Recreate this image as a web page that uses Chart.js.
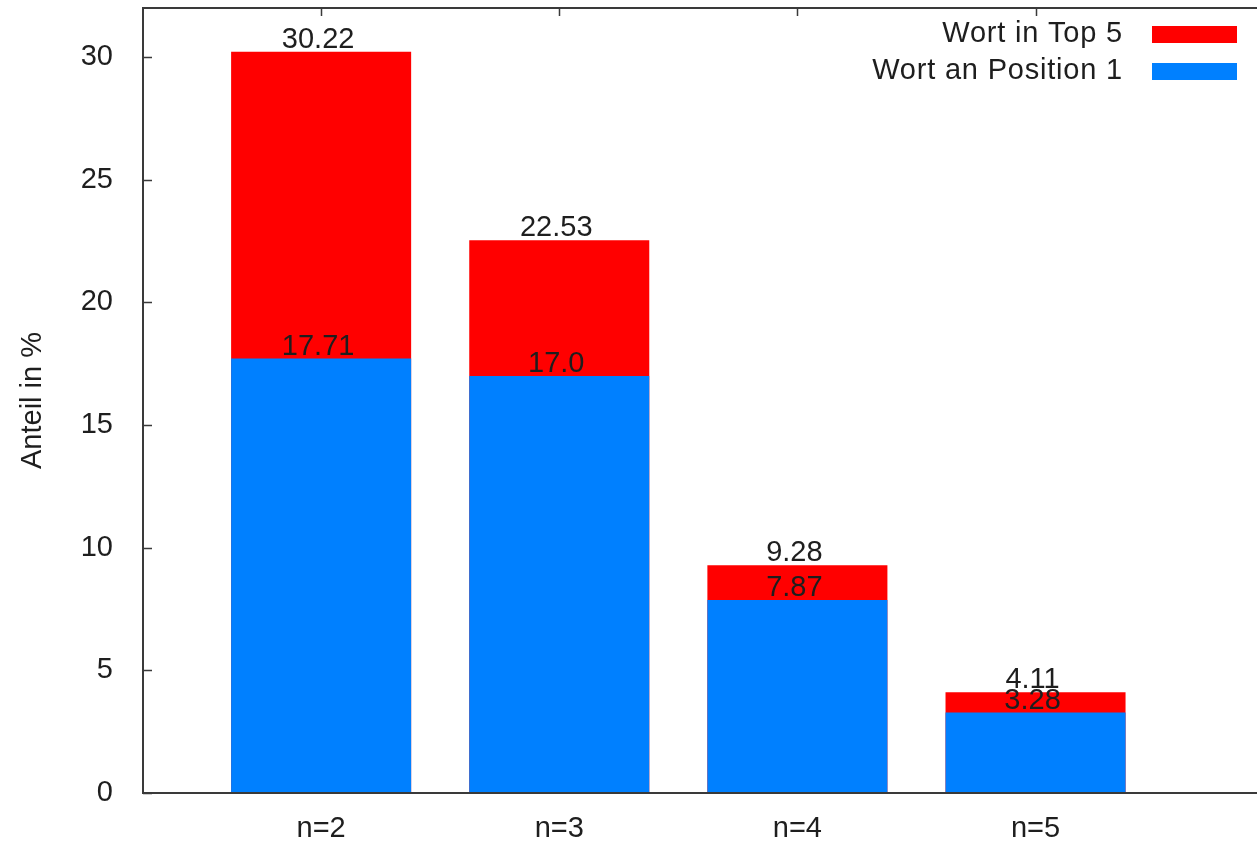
<!DOCTYPE html>
<html>
<head>
<meta charset="utf-8">
<script src="https://cdn.jsdelivr.net/npm/chart.js@4"></script>
<style>
  body { margin: 0; background: #fff; }
  canvas { display: block; }
</style>
</head>
<body>
<canvas id="myChart" width="1257" height="842"></canvas>
<script>
const labels = ['n=2', 'n=3', 'n=4', 'n=5'];
const top5 = [30.22, 22.53, 9.28, 4.11];
const pos1 = [17.71, 17.0, 7.87, 3.28];
const series_names = ['Wort in Top 5', 'Wort an Position 1'];
const y_ticks = [0, 5, 10, 15, 20, 25, 30];

const FONT = 'Liberation Sans, Arial, sans-serif';
const TEXT = '#1e1e1e';
const AXIS = '#3a3a3a';

function fmt(v) {
    return (v % 1 === 0) ? v.toFixed(1) : String(v);
}

// frame, ticks, value labels and legend, gnuplot style
const gp_plugin = {
    id: 'gp',
    afterDatasetsDraw(chart) {
        const ctx = chart.ctx;
        const a = chart.chartArea;
        const xs = chart.scales.x;
        const ys = chart.scales.y;
        ctx.save();
        ctx.strokeStyle = AXIS;
        ctx.lineWidth = 2;
        ctx.beginPath();
        ctx.moveTo(a.left, a.top);
        ctx.lineTo(a.left, a.bottom);
        ctx.moveTo(a.left - 1, a.top);
        ctx.lineTo(a.right, a.top);
        ctx.moveTo(a.left - 1, a.bottom);
        ctx.lineTo(a.right, a.bottom);
        ctx.stroke();

        ctx.lineWidth = 1.5;
        ctx.beginPath();
        y_ticks.forEach(t => {
            const py = Math.round(ys.getPixelForValue(t)) + 0.5;
            ctx.moveTo(a.left, py);
            ctx.lineTo(a.left + 9, py);
        });
        labels.forEach((l, i) => {
            const px = Math.round(xs.getPixelForValue(i + 1)) + 0.5;
            ctx.moveTo(px, a.top);
            ctx.lineTo(px, a.top + 8);
        });
        ctx.stroke();

        // value labels
        ctx.font = '29px ' + FONT;
        ctx.fillStyle = TEXT;
        ctx.textAlign = 'center';
        ctx.textBaseline = 'middle';
        [top5, pos1].forEach(arr => {
            arr.forEach((v, i) => {
                const px = xs.getPixelForValue(i + 1) - 3;
                const py = ys.getPixelForValue(v) - 12;
                ctx.fillText(fmt(v), px, py);
            });
        });

        // legend
        const colors = ['#ff0000', '#0080ff'];
        ctx.textAlign = 'right';
        ctx.letterSpacing = '0.8px';
        series_names.forEach((name, i) => {
            const cy = 34 + i * 37;
            ctx.fillStyle = TEXT;
            ctx.fillText(name, 1123, cy);
            ctx.fillStyle = colors[i];
            ctx.fillRect(1152, cy - 8, 85, 17);
        });
        ctx.restore();
    }
};

const data = {
    datasets: [{
        label: series_names[0],
        data: top5.map((v, i) => ({ x: i + 1, y: v })),
        backgroundColor: '#ff0000',
        order: 1,
    }, {
        label: series_names[1],
        data: pos1.map((v, i) => ({ x: i + 1, y: v })),
        backgroundColor: '#0080ff',
        order: 0,
    }]
};

const config = {
    type: 'bar',
    data: data,
    options: {
        responsive: false,
        animation: false,
        grouped: false,
        categoryPercentage: 1,
        barPercentage: 0.756,
        layout: { padding: { top: 8, right: 0, left: 0, bottom: 0 } },
        plugins: {
            legend: { display: false },
            tooltip: { enabled: false },
        },
        scales: {
            x: {
                type: 'linear',
                min: 0.252,
                max: 4.93,
                offset: false,
                grid: { display: false, drawTicks: false, offset: false },
                border: { display: false },
                afterBuildTicks: s => { s.ticks = labels.map((l, i) => ({ value: i + 1 })); },
                afterFit: s => {
                    s.height = 49;
                    s.paddingLeft = 0;
                    s.paddingRight = 0;
                },
                ticks: {
                    padding: 19,
                    color: TEXT,
                    font: { family: FONT, size: 29 },
                    maxRotation: 0,
                    callback: v => labels[v - 1],
                },
            },
            y: {
                min: 0,
                max: 32,
                grid: { display: false, drawTicks: false },
                border: { display: false },
                afterBuildTicks: s => { s.ticks = y_ticks.map(v => ({ value: v })); },
                afterFit: s => {
                    s.width = 143;
                    s.paddingTop = 0;
                    s.paddingBottom = 0;
                },
                title: {
                    display: true,
                    text: 'Anteil in %',
                    color: TEXT,
                    font: { family: FONT, size: 29 },
                    padding: { top: 16, bottom: 0 },
                },
                ticks: {
                    padding: 30,
                    color: TEXT,
                    font: { family: FONT, size: 29 },
                },
            },
        },
    },
    plugins: [gp_plugin],
};

const myChart = new Chart(document.getElementById('myChart'), config);
</script>
</body>
</html>
